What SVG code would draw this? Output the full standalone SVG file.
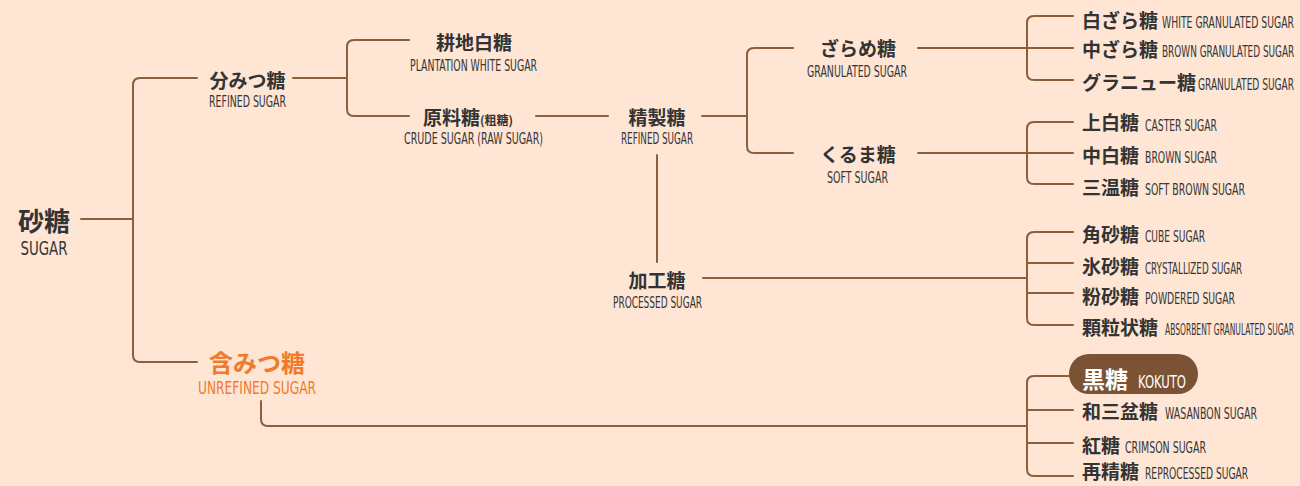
<svg xmlns="http://www.w3.org/2000/svg" width="1300" height="486" viewBox="0 0 1300 486">
<style>
.jp{font-family:"Noto Sans CJK JP","Noto Sans CJK SC",sans-serif;font-weight:700;fill:#333333;font-size:19px}
.en{font-family:"Liberation Sans Narrow","DejaVu Sans Condensed","Liberation Sans",sans-serif;fill:#353535;font-size:16px}
.c{text-anchor:middle}
.ln{fill:none;stroke:#8B5E3C;stroke-width:2;stroke-linecap:round}
</style>
<rect x="0" y="0" width="1300" height="486" fill="#FEE5D4"/>
<g id="connectors">
<path class="ln" d="M81,219 H133"/>
<path class="ln" d="M197,78 H140 Q133,78 133,85 V355 Q133,362 140,362 H197"/>
<path class="ln" d="M293,78 H347"/>
<path class="ln" d="M409,40 H354 Q347,40 347,47 V109 Q347,116 354,116 H409"/>
<path class="ln" d="M536,116 H608"/>
<path class="ln" d="M702,116 H747"/>
<path class="ln" d="M793,48 H754 Q747,48 747,55 V146 Q747,153 754,153 H793"/>
<path class="ln" d="M657,155 V262"/>
<path class="ln" d="M703,278 H1027"/>
<path class="ln" d="M918,48 H1027"/>
<path class="ln" d="M1073,16 H1034 Q1027,16 1027,23 V73 Q1027,80 1034,80 H1073"/>
<path class="ln" d="M1027,48 H1073"/>
<path class="ln" d="M918,153 H1027"/>
<path class="ln" d="M1073,122 H1034 Q1027,122 1027,129 V177 Q1027,184 1034,184 H1073"/>
<path class="ln" d="M1027,153 H1073"/>
<path class="ln" d="M1073,232 H1034 Q1027,232 1027,239 V318 Q1027,325 1034,325 H1073"/>
<path class="ln" d="M1027,263 H1073"/>
<path class="ln" d="M1027,293 H1073"/>
<path class="ln" d="M261,401 V419 Q261,426 268,426 H1027"/>
<path class="ln" d="M1069,376 H1034 Q1027,376 1027,383 V469 Q1027,476 1034,476 H1073"/>
<path class="ln" d="M1027,410 H1073"/>
<path class="ln" d="M1027,443 H1073"/>
</g>
<g id="sugar">
<text class="jp c" x="44" y="231" style="font-size:26px">砂糖</text>
<text class="en c" x="44" y="255" style="font-size:20px" textLength="47" lengthAdjust="spacingAndGlyphs">SUGAR</text>
</g>
<g id="bunmitsu">
<text class="jp c" x="247.5" y="88">分みつ糖</text>
<text class="en c" x="247.5" y="107" textLength="77" lengthAdjust="spacingAndGlyphs">REFINED SUGAR</text>
</g>
<g id="ganmitsu">
<text class="jp c" x="257" y="372" style="font-size:24px;fill:#F07B2C">含みつ糖</text>
<text class="en c" x="257" y="394" style="font-size:17px;fill:#F07B2C" textLength="118" lengthAdjust="spacingAndGlyphs">UNREFINED SUGAR</text>
</g>
<g id="kouchi">
<text class="jp c" x="474" y="50">耕地白糖</text>
<text class="en c" x="473.5" y="71" textLength="127" lengthAdjust="spacingAndGlyphs">PLANTATION WHITE SUGAR</text>
</g>
<g id="genryo">
<text class="jp" x="423" y="125">原料糖<tspan style="font-size:12px">(粗糖)</tspan></text>
<text class="en c" x="473.5" y="144" textLength="139" lengthAdjust="spacingAndGlyphs">CRUDE SUGAR (RAW SUGAR)</text>
</g>
<g id="seisei">
<text class="jp c" x="657" y="125">精製糖</text>
<text class="en c" x="657" y="144" textLength="72" lengthAdjust="spacingAndGlyphs">REFINED SUGAR</text>
</g>
<g id="kakou">
<text class="jp c" x="657" y="288">加工糖</text>
<text class="en c" x="657.5" y="308" textLength="89" lengthAdjust="spacingAndGlyphs">PROCESSED SUGAR</text>
</g>
<g id="zarame">
<text class="jp c" x="858" y="56">ざらめ糖</text>
<text class="en c" x="857" y="77" textLength="100" lengthAdjust="spacingAndGlyphs">GRANULATED SUGAR</text>
</g>
<g id="kuruma">
<text class="jp c" x="858" y="162">くるま糖</text>
<text class="en c" x="857.5" y="183" textLength="61" lengthAdjust="spacingAndGlyphs">SOFT SUGAR</text>
</g>
<g id="shirozara">
<text class="jp" x="1082" y="28">白ざら糖</text>
<text class="en" transform="translate(1162,28) scale(0.66,1)" x="0" y="0" textLength="200" lengthAdjust="spacingAndGlyphs">WHITE GRANULATED SUGAR</text>
</g>
<g id="chuzara">
<text class="jp" x="1082" y="57">中ざら糖</text>
<text class="en" transform="translate(1162,57) scale(0.63,1)" x="0" y="0" textLength="210" lengthAdjust="spacingAndGlyphs">BROWN GRANULATED SUGAR</text>
</g>
<g id="granulated">
<text class="jp" x="1082" y="90">グラニュー糖</text>
<text class="en" transform="translate(1198,90) scale(0.64,1)" x="0" y="0" textLength="150" lengthAdjust="spacingAndGlyphs">GRANULATED SUGAR</text>
</g>
<g id="johakuto">
<text class="jp" x="1082" y="130">上白糖</text>
<text class="en" x="1145" y="131" textLength="72" lengthAdjust="spacingAndGlyphs">CASTER SUGAR</text>
</g>
<g id="chuhakuto">
<text class="jp" x="1082" y="163">中白糖</text>
<text class="en" x="1145" y="163" textLength="72" lengthAdjust="spacingAndGlyphs">BROWN SUGAR</text>
</g>
<g id="sanonto">
<text class="jp" x="1082" y="195">三温糖</text>
<text class="en" x="1145" y="195" textLength="100" lengthAdjust="spacingAndGlyphs">SOFT BROWN SUGAR</text>
</g>
<g id="kakuzato">
<text class="jp" x="1082" y="242">角砂糖</text>
<text class="en" x="1145" y="242" textLength="60" lengthAdjust="spacingAndGlyphs">CUBE SUGAR</text>
</g>
<g id="korizato">
<text class="jp" x="1082" y="274">氷砂糖</text>
<text class="en" transform="translate(1145,274) scale(0.6,1)" x="0" y="0" textLength="162" lengthAdjust="spacingAndGlyphs">CRYSTALLIZED SUGAR</text>
</g>
<g id="konazato">
<text class="jp" x="1082" y="304">粉砂糖</text>
<text class="en" x="1145" y="304" textLength="90" lengthAdjust="spacingAndGlyphs">POWDERED SUGAR</text>
</g>
<g id="karyujo">
<text class="jp" x="1082" y="335">顆粒状糖</text>
<text class="en" transform="translate(1165,335) scale(0.52,1)" x="0" y="0" textLength="248" lengthAdjust="spacingAndGlyphs">ABSORBENT GRANULATED SUGAR</text>
</g>
<g id="kokuto">
<rect x="1069" y="354" width="129" height="40" rx="20" ry="20" fill="#7B5234"/>
<text class="jp" x="1082" y="388" style="font-size:23px;fill:#FFFFFF">黒糖</text>
<text class="en" x="1138" y="388" style="font-size:18px;fill:#FFFFFF" textLength="48" lengthAdjust="spacingAndGlyphs">KOKUTO</text>
</g>
<g id="wasanbon">
<text class="jp" x="1082" y="419">和三盆糖</text>
<text class="en" transform="translate(1165,419) scale(0.65,1)" x="0" y="0" textLength="141.5" lengthAdjust="spacingAndGlyphs">WASANBON SUGAR</text>
</g>
<g id="koto">
<text class="jp" x="1082" y="453">紅糖</text>
<text class="en" x="1125" y="453" textLength="81" lengthAdjust="spacingAndGlyphs">CRIMSON SUGAR</text>
</g>
<g id="saiseito">
<text class="jp" x="1082" y="479">再精糖</text>
<text class="en" transform="translate(1145,479) scale(0.6,1)" x="0" y="0" textLength="172" lengthAdjust="spacingAndGlyphs">REPROCESSED SUGAR</text>
</g>
</svg>
